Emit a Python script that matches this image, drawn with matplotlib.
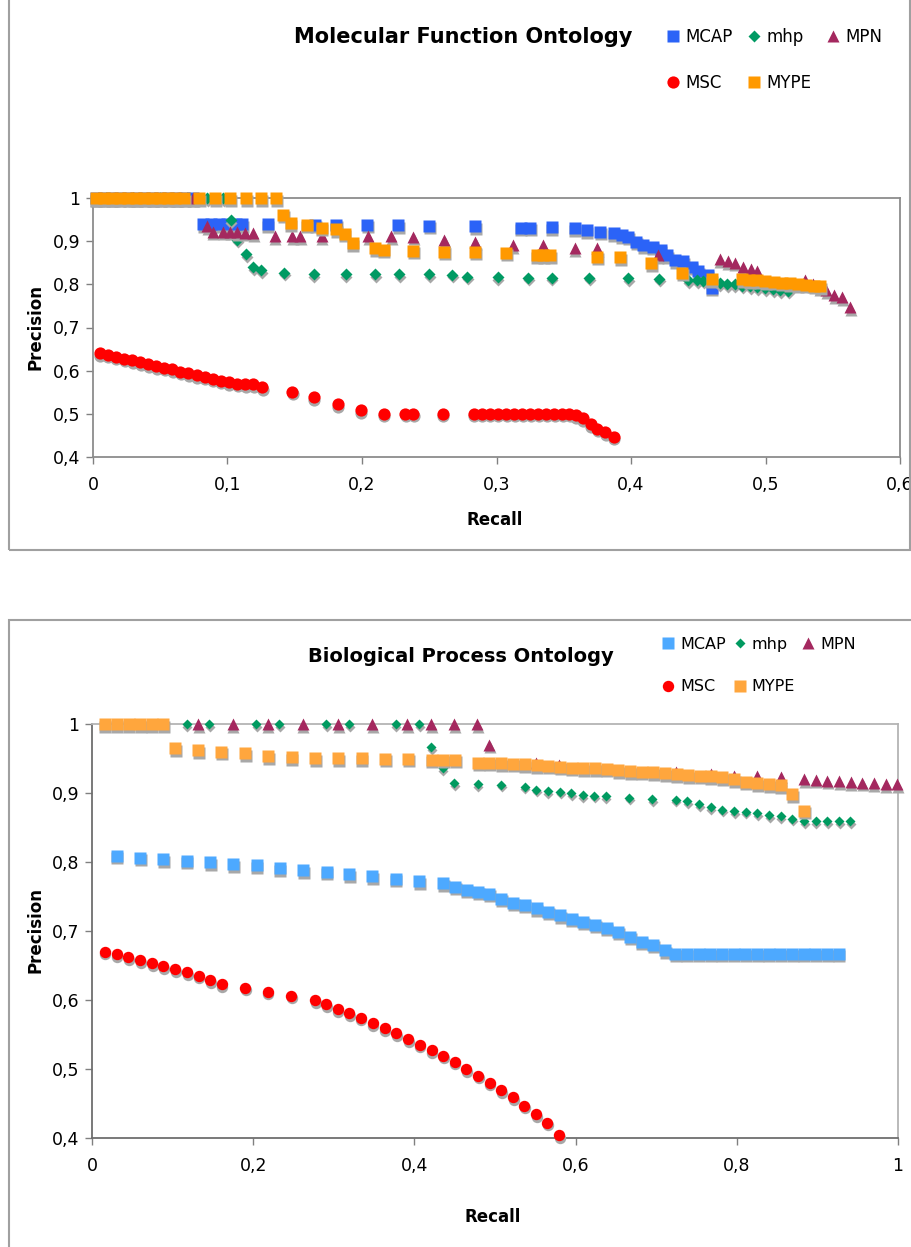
import matplotlib
matplotlib.use("Agg")
import matplotlib.pyplot as plt
import matplotlib.transforms as mtransforms
from matplotlib.patches import Rectangle
from matplotlib.ticker import FuncFormatter, MultipleLocator

SERIES_NAMES = ["MCAP", "mhp", "MPN", "MSC", "MYPE"]

# --- Molecular Function Ontology (recall, precision) ---
mf_mcap_recall = [0.002, 0.008, 0.014, 0.020, 0.026, 0.032, 0.038, 0.044, 0.050, 0.056, 0.062, 0.068, 0.074,
                  0.082, 0.088, 0.094, 0.100, 0.106, 0.111,
                  0.130, 0.165, 0.181, 0.204, 0.227, 0.250, 0.284, 0.318, 0.325, 0.341, 0.358, 0.367, 0.377,
                  0.387, 0.393, 0.398, 0.404, 0.409, 0.416, 0.422, 0.427, 0.433, 0.439, 0.445, 0.450, 0.457, 0.460]
mf_mcap_precision = [1, 1, 1, 1, 1, 1, 1, 1, 1, 1, 1, 1, 1,
                     0.94, 0.94, 0.94, 0.94, 0.94, 0.94,
                     0.94, 0.938, 0.938, 0.938, 0.937, 0.936, 0.934, 0.931, 0.931, 0.932, 0.930, 0.926, 0.922,
                     0.919, 0.914, 0.910, 0.899, 0.891, 0.887, 0.880, 0.868, 0.856, 0.853, 0.841, 0.830, 0.822, 0.792]

mf_mhp_recall = [0.010, 0.030, 0.050, 0.070, 0.085, 0.097,
                 0.1025, 0.107, 0.114, 0.119, 0.125,
                 0.142, 0.164, 0.188, 0.210, 0.2275, 0.250, 0.267, 0.278, 0.301, 0.3235, 0.341, 0.369, 0.398, 0.421,
                 0.4424, 0.449, 0.4535, 0.466, 0.4714, 0.477, 0.4825, 0.4885, 0.4937, 0.4996, 0.5056, 0.511, 0.5167]
mf_mhp_precision = [1, 1, 1, 1, 1, 1,
                    0.948, 0.903, 0.870, 0.840, 0.833,
                    0.827, 0.824, 0.824, 0.824, 0.823, 0.823, 0.822, 0.818, 0.816, 0.815, 0.815, 0.815, 0.814, 0.813,
                    0.810, 0.810, 0.808, 0.802, 0.801, 0.800, 0.797, 0.795, 0.793, 0.791, 0.789, 0.787, 0.785]

mf_mpn_recall = [0.004, 0.015, 0.030, 0.045, 0.0625, 0.0743,
                 0.0847, 0.089, 0.097, 0.102, 0.107, 0.113, 0.119,
                 0.135, 0.148, 0.154, 0.170, 0.2045, 0.2215, 0.238, 0.261, 0.284, 0.312, 0.3345, 0.358, 0.375, 0.420,
                 0.466, 0.472, 0.477, 0.483, 0.489, 0.494, 0.529, 0.535, 0.540, 0.545, 0.551, 0.557, 0.563]
mf_mpn_precision = [1, 1, 1, 1, 1, 1,
                    0.935, 0.922, 0.922, 0.922, 0.921, 0.920, 0.919,
                    0.912, 0.912, 0.912, 0.912, 0.912, 0.911, 0.910, 0.903, 0.899, 0.891, 0.891, 0.884, 0.884, 0.868,
                    0.858, 0.853, 0.850, 0.840, 0.835, 0.830, 0.810, 0.800, 0.793, 0.787, 0.775, 0.770, 0.747]

mf_msc_recall = [0.005, 0.011, 0.017, 0.023, 0.029, 0.035, 0.041, 0.047, 0.053, 0.059, 0.065, 0.071, 0.077,
                 0.083, 0.089, 0.095, 0.101, 0.107, 0.113, 0.119, 0.126,
                 0.148, 0.164, 0.182, 0.199, 0.216, 0.232, 0.238, 0.260,
                 0.283, 0.289, 0.295, 0.301, 0.307, 0.313, 0.319, 0.325, 0.331, 0.337, 0.343, 0.349, 0.354,
                 0.359, 0.364, 0.370, 0.375, 0.381, 0.387]
mf_msc_precision = [0.641, 0.637, 0.632, 0.628, 0.624, 0.620, 0.615, 0.611, 0.607, 0.603, 0.598, 0.594, 0.590,
                    0.586, 0.581, 0.577, 0.573, 0.570, 0.569, 0.568, 0.562,
                    0.551, 0.538, 0.523, 0.509, 0.500, 0.500, 0.500, 0.500,
                    0.500, 0.500, 0.500, 0.500, 0.500, 0.500, 0.500, 0.500, 0.500, 0.500, 0.500, 0.500, 0.500,
                    0.497, 0.490, 0.476, 0.466, 0.458, 0.447]

mf_mype_recall = [0.002, 0.008, 0.014, 0.020, 0.026, 0.032, 0.038, 0.044, 0.050, 0.056, 0.061,
                  0.068, 0.079, 0.091, 0.102, 0.114, 0.125, 0.136,
                  0.1415, 0.147, 0.159, 0.170, 0.181, 0.187, 0.193, 0.210, 0.216, 0.238, 0.261, 0.284, 0.307,
                  0.330, 0.3345, 0.340, 0.375, 0.392, 0.415, 0.438, 0.460,
                  0.4825, 0.488, 0.494, 0.500, 0.506, 0.512, 0.518, 0.524, 0.530, 0.536, 0.5405]
mf_mype_precision = [1, 1, 1, 1, 1, 1, 1, 1, 1, 1, 1,
                     1, 1, 1, 1, 1, 1, 1,
                     0.961, 0.942, 0.938, 0.931, 0.928, 0.917, 0.895, 0.884, 0.880, 0.878, 0.876, 0.876, 0.873,
                     0.868, 0.868, 0.868, 0.864, 0.863, 0.849, 0.827, 0.812,
                     0.812, 0.810, 0.809, 0.807, 0.806, 0.804, 0.802, 0.801, 0.799, 0.797, 0.795]

# --- Biological Process Ontology (recall, precision) ---
bp_mcap_recall = [0.0306, 0.0596, 0.0885, 0.1175, 0.1464, 0.1754, 0.2043, 0.2330, 0.2620, 0.2911, 0.3190,
                  0.3480, 0.3770, 0.4060, 0.4360,
                  0.4504, 0.4649, 0.4790, 0.4926, 0.5080, 0.5227, 0.5370, 0.5517, 0.5660, 0.5806, 0.5950,
                  0.6096, 0.6240, 0.6386, 0.6530, 0.6675, 0.6820, 0.6964, 0.7110,
                  0.7235, 0.7380, 0.7525, 0.7670, 0.7815, 0.7960, 0.8105, 0.8250, 0.8395, 0.8540, 0.8685,
                  0.8830, 0.8975, 0.9120, 0.9265]
bp_mcap_precision = [0.809, 0.806, 0.804, 0.802, 0.800, 0.797, 0.795, 0.791, 0.788, 0.786, 0.782,
                     0.779, 0.776, 0.7725, 0.769,
                     0.764, 0.760, 0.757, 0.754, 0.747, 0.741, 0.738, 0.733, 0.728, 0.723, 0.718,
                     0.7135, 0.709, 0.705, 0.699, 0.692, 0.6845, 0.680, 0.672,
                     0.667, 0.667, 0.667, 0.667, 0.667, 0.667, 0.667, 0.667, 0.667, 0.667, 0.667,
                     0.667, 0.667, 0.667, 0.667]

bp_mhp_recall = [0.1174, 0.1456, 0.2035, 0.2324, 0.2903, 0.3190, 0.3770, 0.4060,
                 0.4206, 0.4350, 0.4495,
                 0.4785, 0.5075, 0.5370, 0.5510, 0.5656, 0.5806, 0.5943, 0.6087, 0.6230, 0.6373, 0.6662,
                 0.6950, 0.7240, 0.7386, 0.7530, 0.7676, 0.7820, 0.7965, 0.8110, 0.8255, 0.8400, 0.8545,
                 0.8690, 0.8834, 0.8980, 0.9123, 0.9270, 0.9410]
bp_mhp_precision = [1, 1, 1, 1, 1, 1, 1, 1,
                    0.966, 0.936, 0.914,
                    0.913, 0.912, 0.909, 0.905, 0.903, 0.902, 0.900, 0.897, 0.896, 0.895, 0.893,
                    0.891, 0.890, 0.888, 0.884, 0.879, 0.876, 0.874, 0.873, 0.8705, 0.868, 0.866,
                    0.863, 0.859, 0.859, 0.859, 0.859, 0.859]

bp_mpn_recall = [0.132, 0.1745, 0.218, 0.2613, 0.3056, 0.348, 0.391, 0.4206, 0.4495, 0.478,
                 0.493, 0.551, 0.580,
                 0.7245, 0.7676, 0.797, 0.8255, 0.8545,
                 0.8834, 0.8978, 0.9123, 0.9268, 0.9413, 0.9557, 0.970, 0.9847, 0.9991]
bp_mpn_precision = [1, 1, 1, 1, 1, 1, 1, 1, 1, 1,
                    0.970, 0.943, 0.940,
                    0.930, 0.927, 0.925, 0.924, 0.923,
                    0.920, 0.919, 0.918, 0.917, 0.916, 0.915, 0.914, 0.913, 0.913]

bp_msc_recall = [0.0158, 0.0305, 0.045, 0.060, 0.0747, 0.0884, 0.103, 0.118, 0.1325, 0.147, 0.161,
                 0.190, 0.218, 0.247,
                 0.277, 0.2905, 0.305, 0.319, 0.3336, 0.3483, 0.363, 0.3777, 0.3924, 0.4067, 0.4213,
                 0.4355, 0.4498, 0.4645, 0.479, 0.4934, 0.5077, 0.5223, 0.5366, 0.5513, 0.565, 0.5797]
bp_msc_precision = [0.670, 0.6667, 0.662, 0.658, 0.653, 0.649, 0.6445, 0.640, 0.635, 0.629, 0.623,
                    0.618, 0.612, 0.606,
                    0.600, 0.594, 0.5865, 0.5807, 0.5744, 0.566, 0.559, 0.552, 0.543, 0.535, 0.5275,
                    0.519, 0.5106, 0.500, 0.4903, 0.480, 0.4696, 0.459, 0.447, 0.4343, 0.422, 0.404]

bp_mype_recall = [0.016, 0.0306, 0.0455, 0.0596, 0.074, 0.0885,
                  0.103, 0.132, 0.160, 0.190, 0.2187, 0.2477, 0.2767, 0.3056, 0.3346, 0.3635, 0.3924,
                  0.4213, 0.4359, 0.4504,
                  0.4793, 0.4930, 0.5080, 0.5227, 0.5370, 0.5517, 0.5660, 0.5806, 0.5950, 0.6096, 0.6240,
                  0.6386, 0.6530, 0.6675, 0.6820, 0.6964, 0.7110, 0.7254, 0.7400, 0.7543, 0.7676, 0.7820,
                  0.7965, 0.8110, 0.8255, 0.8400, 0.8545, 0.8690, 0.8834]
bp_mype_precision = [1, 1, 1, 1, 1, 1,
                     0.965, 0.962, 0.960, 0.9575, 0.9536, 0.9517, 0.9507, 0.9507, 0.950, 0.9498, 0.9495,
                     0.948, 0.948, 0.948,
                     0.944, 0.944, 0.943, 0.9425, 0.942, 0.9406, 0.9397, 0.938, 0.9367, 0.9358, 0.9358,
                     0.935, 0.9333, 0.932, 0.931, 0.930, 0.9285, 0.9275, 0.926, 0.925, 0.9246, 0.9227,
                     0.9198, 0.9164, 0.914, 0.913, 0.9116, 0.8986, 0.8744]

MF_COLORS = ["#2B63F7", "#009A63", "#A4285F", "#FF0000", "#FF9900"]
BP_COLORS = ["#4DA9FF", "#009A60", "#A4285F", "#FF0000", "#FFA63D"]
MARKERS = ["s", "D", "^", "o", "s"]

W, H = 912, 1247


def fx(px):
    return px / W


def fy(py):
    return 1 - py / H


def comma_fmt(v, pos):
    return f"{v:g}".replace(".", ",")


def draw_panel(fig, rect, data, colors, sizes, title, title_pos, title_size,
               xmax, xstep, xlabel_pos, ylabel_pos, legend_anchor, legend_font, colspacing,
               light_top_right=False):
    ax = fig.add_axes(rect)
    shadow = mtransforms.offset_copy(ax.transData, fig=fig, x=0.6, y=-2.6, units="dots")

    handles = []
    for i, (name, (rec, prec)) in enumerate(zip(SERIES_NAMES, data)):
        # sombra gris tipo Excel
        ax.plot(rec, prec, ls="none", marker=MARKERS[i], ms=sizes[i], color="#a8a8a8",
                mec="none", transform=shadow, zorder=2 + 2 * i, clip_on=False)
        h, = ax.plot(rec, prec, ls="none", marker=MARKERS[i], ms=sizes[i], color=colors[i],
                     mec="none", zorder=3 + 2 * i, clip_on=False, label=name)
        handles.append(h)

    ax.set_xlim(0, xmax)
    ax.set_ylim(0.4, 1.0)
    ax.xaxis.set_major_locator(MultipleLocator(xstep))
    ax.yaxis.set_major_locator(MultipleLocator(0.1))
    ax.xaxis.set_major_formatter(FuncFormatter(comma_fmt))
    ax.yaxis.set_major_formatter(FuncFormatter(comma_fmt))
    ax.tick_params(direction="out", length=5, color="#808080", labelsize=12.5, width=1)
    ax.tick_params(axis="x", pad=9)
    ax.tick_params(axis="y", pad=4)
    for s in ax.spines.values():
        s.set_color("#8c8c8c")
        s.set_linewidth(1.3)
    if light_top_right:
        ax.spines["top"].set_color("#b4b4b4")
        ax.spines["right"].set_color("#b4b4b4")
        ax.spines["left"].set_color("#6e6e6e")
        ax.spines["bottom"].set_color("#6e6e6e")

    fig.text(fx(title_pos[0]), fy(title_pos[1]), title, fontsize=title_size,
             fontweight="bold", ha="center", va="center")
    fig.text(fx(xlabel_pos[0]), fy(xlabel_pos[1]), "Recall", fontsize=12,
             fontweight="bold", ha="center", va="center")
    fig.text(fx(ylabel_pos[0]), fy(ylabel_pos[1]), "Precision", fontsize=12,
             fontweight="bold", ha="center", va="center", rotation=90)

    # orden por columnas para que las filas queden: MCAP mhp MPN / MSC MYPE
    order = [0, 3, 1, 4, 2]
    fig.legend([handles[k] for k in order], [SERIES_NAMES[k] for k in order],
               ncol=3, loc="upper left", bbox_to_anchor=(fx(legend_anchor[0]), fy(legend_anchor[1])),
               frameon=False, fontsize=legend_font, handlelength=0.8, handletextpad=0.35,
               columnspacing=colspacing, labelspacing=1.7, borderpad=0, borderaxespad=0)
    return ax


def main():
    fig = plt.figure(figsize=(W / 100, H / 100), dpi=100)

    # marcos de cada gráfico
    fig.patches.append(Rectangle((fx(9), fy(550)), fx(901), 1, transform=fig.transFigure,
                                 fill=False, edgecolor="#a0a0a0", lw=1.5, figure=fig))
    fig.patches.append(Rectangle((fx(9), fy(1260)), fx(910), fy(620) - fy(1260), transform=fig.transFigure,
                                 fill=False, edgecolor="#a0a0a0", lw=1.5, figure=fig))

    mf_data = [(mf_mcap_recall, mf_mcap_precision), (mf_mhp_recall, mf_mhp_precision),
               (mf_mpn_recall, mf_mpn_precision), (mf_msc_recall, mf_msc_precision),
               (mf_mype_recall, mf_mype_precision)]
    bp_data = [(bp_mcap_recall, bp_mcap_precision), (bp_mhp_recall, bp_mhp_precision),
               (bp_mpn_recall, bp_mpn_precision), (bp_msc_recall, bp_msc_precision),
               (bp_mype_recall, bp_mype_precision)]

    draw_panel(fig, [fx(93), fy(457), fx(900 - 93), (457 - 198) / H], mf_data, MF_COLORS,
               [8.6, 6.6, 8.2, 8.8, 8.6], "Molecular Function Ontology", (463, 37), 15,
               0.6, 0.1, (495, 520), (35, 327), (666, 28), 12, 0.9)
    draw_panel(fig, [fx(92), fy(1138), fx(898 - 92), (1138 - 724) / H], bp_data, BP_COLORS,
               [8.5, 5.2, 8.5, 8.2, 8.5], "Biological Process Ontology", (461, 656), 14,
               1.0, 0.2, (493, 1217), (35, 930), (662, 637), 11.5, 0.45, light_top_right=True)

    fig.savefig("out.png", dpi=100)
    plt.close(fig)


if __name__ == "__main__":
    main()
